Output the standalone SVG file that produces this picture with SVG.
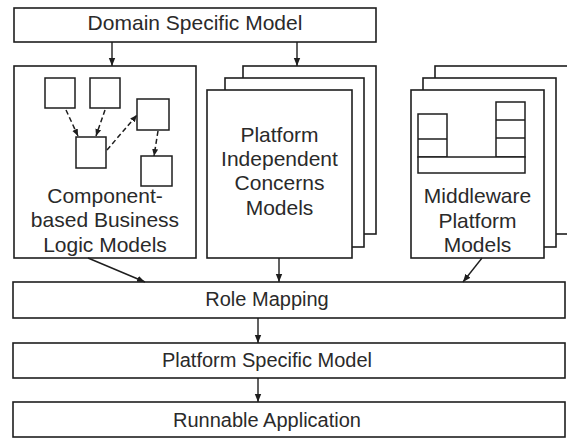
<svg xmlns="http://www.w3.org/2000/svg" width="567" height="438" viewBox="0 0 567 438">
  <defs>
    <marker id="arrow" viewBox="0 0 8 8" refX="8" refY="4" markerWidth="8" markerHeight="8" markerUnits="userSpaceOnUse" orient="auto">
      <path d="M0,0.8 L8,4 L0,7.2 Z" fill="#1e1e1e"/>
    </marker>
    <marker id="arrow-sm" viewBox="0 0 8 8" refX="8" refY="4" markerWidth="7" markerHeight="7" markerUnits="userSpaceOnUse" orient="auto">
      <path d="M0,0.6 L8,4 L0,7.4 Z" fill="#1e1e1e"/>
    </marker>
  </defs>
  <style>
    .box { fill: #ffffff; stroke: #1e1e1e; stroke-width: 1.6; }
    .inner { fill: #ffffff; stroke: #1e1e1e; stroke-width: 1.5; }
    .sep { stroke: #1e1e1e; stroke-width: 1.5; fill: none; }
    .label { font-family: "Liberation Sans", Arial, sans-serif; font-size: 20px; fill: #2a2a2a; text-anchor: middle; }
    .big { font-size: 21px; }
    .conn { stroke: #1e1e1e; stroke-width: 1.4; fill: none; marker-end: url(#arrow); }
    .dash { stroke: #1e1e1e; stroke-width: 1.5; fill: none; stroke-dasharray: 5 3; marker-end: url(#arrow-sm); }
  </style>
  <rect width="567" height="438" fill="#ffffff"/>

  <g id="domain-specific-model">
    <rect class="box" x="14" y="8" width="362" height="34"/>
    <text class="label big" x="195" y="30">Domain Specific Model</text>
  </g>

  <g id="business-logic-models">
    <rect class="box" x="14" y="66" width="182" height="192"/>
    <rect class="inner" x="45" y="78" width="30" height="30"/>
    <rect class="inner" x="90" y="78" width="30" height="30"/>
    <rect class="inner" x="137" y="99" width="32" height="31"/>
    <rect class="inner" x="76" y="137" width="30" height="31"/>
    <rect class="inner" x="141" y="156" width="31" height="30"/>
    <line class="dash" x1="66" y1="110" x2="78" y2="136"/>
    <line class="dash" x1="105" y1="110" x2="96" y2="136"/>
    <line class="dash" x1="107" y1="150" x2="137" y2="115"/>
    <line class="dash" x1="158" y1="131" x2="154" y2="156"/>
    <text class="label big" x="105" y="203">Component-</text>
    <text class="label big" x="105" y="227">based Business</text>
    <text class="label big" x="105" y="252">Logic Models</text>
  </g>

  <g id="platform-independent-models">
    <rect class="box" x="243" y="66" width="133" height="168"/>
    <rect class="box" x="225" y="78" width="139" height="169"/>
    <rect class="box" x="207" y="90" width="145" height="168"/>
    <text class="label big" x="279.5" y="142">Platform</text>
    <text class="label big" x="279.5" y="166">Independent</text>
    <text class="label big" x="279.5" y="190">Concerns</text>
    <text class="label big" x="279.5" y="215">Models</text>
  </g>

  <g id="middleware-platform-models">
    <rect class="box" x="435" y="66" width="133" height="168"/>
    <rect class="box" x="423" y="78" width="133" height="169"/>
    <rect class="box" x="411" y="90" width="133" height="168"/>
    <rect class="inner" x="418" y="114" width="29" height="43"/>
    <line class="sep" x1="418" y1="139" x2="447" y2="139"/>
    <rect class="inner" x="496" y="102" width="29" height="55"/>
    <line class="sep" x1="496" y1="120" x2="525" y2="120"/>
    <line class="sep" x1="496" y1="138" x2="525" y2="138"/>
    <rect class="inner" x="418" y="157" width="107" height="16"/>
    <text class="label big" x="477.5" y="203">Middleware</text>
    <text class="label big" x="477.5" y="228">Platform</text>
    <text class="label big" x="477.5" y="252">Models</text>
  </g>

  <g id="role-mapping">
    <rect class="box" x="13" y="282" width="552" height="36"/>
    <text class="label" x="267" y="306">Role Mapping</text>
  </g>

  <g id="platform-specific-model">
    <rect class="box" x="13" y="343" width="552" height="35"/>
    <text class="label" x="267" y="367">Platform Specific Model</text>
  </g>

  <g id="runnable-application">
    <rect class="box" x="13" y="402" width="552" height="35"/>
    <text class="label" x="267" y="427">Runnable Application</text>
  </g>

  <g id="connectors">
    <line class="conn" x1="112" y1="42" x2="112" y2="66"/>
    <line class="conn" x1="297" y1="42" x2="297" y2="66"/>
    <line class="conn" x1="88" y1="258" x2="145" y2="282"/>
    <line class="conn" x1="279" y1="258" x2="279" y2="282"/>
    <line class="conn" x1="482" y1="258" x2="463" y2="282"/>
    <line class="conn" x1="258" y1="318" x2="258" y2="343"/>
    <line class="conn" x1="258" y1="378" x2="258" y2="402"/>
  </g>
</svg>
